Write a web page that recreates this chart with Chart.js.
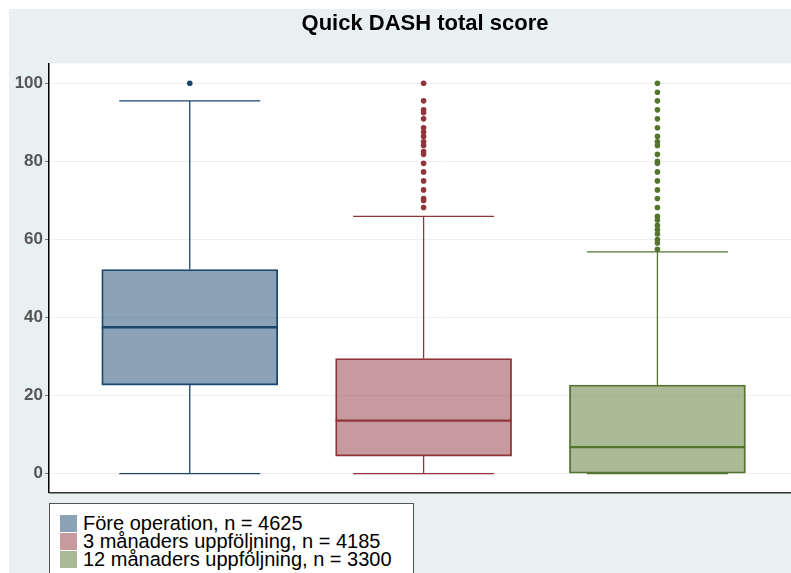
<!DOCTYPE html>
<html>
<head>
<meta charset="utf-8">
<script src="https://cdn.jsdelivr.net/npm/chart.js@4/dist/chart.umd.min.js"></script>
<style>
  html, body { margin: 0; padding: 0; width: 791px; height: 573px; overflow: hidden; background: #fff; }
  #panel { position: absolute; left: 9px; top: 9px; width: 840px; height: 600px; background: #e9f0f2; }
  #chart { position: absolute; left: 9px; top: 9px; }
  #legend {
    position: absolute; left: 49px; top: 503px; width: 365px; height: 90px;
    background: #fff; border: 1.5px solid #555; box-sizing: border-box;
    font-family: "Liberation Sans", Arial, sans-serif; font-size: 20px; color: #000;
    padding: 10px 0 0 10px;
  }
  .item { display: flex; align-items: center; height: 18px; line-height: 18px; white-space: nowrap; }
  .swatch { width: 17px; height: 17px; margin-right: 6px; flex: none; }
</style>
</head>
<body>
<div id="panel"></div>
<canvas id="chart" width="832" height="496"></canvas>
<div id="legend"></div>
<script>
// Quick DASH total score, three follow-up groups
const groups = ['Före operation, n = 4625', '3 månaders uppföljning, n = 4185', '12 månaders uppföljning, n = 3300'];
const positions = [1, 2, 3];
const q1 = [22.7, 4.5, 0];
const medians = [37.5, 13.6, 6.8];
const q3 = [52.3, 29.5, 22.7];
const whiskerLow = [0, 0, 0];
const whiskerHigh = [95.5, 65.9, 56.8];
const outliersFore = [100];
const outliers3m = [100, 95.5, 93.2, 92.5, 90.9, 88.6, 87.5, 86.4, 85.0, 84.1, 82.5, 81.8, 79.5,
                    77.3, 75.0, 72.7, 70.5, 70.0, 68.2];
const outliers12m = [100, 97.7, 95.5, 93.2, 90.9, 88.6, 86.4, 85.0, 84.1, 81.8, 80.0, 79.5, 77.3,
                     75.0, 72.7, 70.5, 68.2, 65.9, 65.0, 63.6, 62.5, 61.4, 60.0, 59.1, 57.5];
const outliers = [outliersFore, outliers3m, outliers12m];
const yTicks = [0, 20, 40, 60, 80, 100];

const lineColors = ['#1a476f', '#90353b', '#55752f'];
const fillColors = ['rgba(26,71,111,0.5)', 'rgba(144,53,59,0.5)', 'rgba(85,117,47,0.5)'];

const BOX_WIDTH = 176;
const CAP_WIDTH = 141;

Chart.defaults.font.family = '"Liberation Sans", Arial, sans-serif';

const datasets = [];
groups.forEach((g, i) => {
    datasets.push({
        type: 'bar',
        label: g,
        data: [{ x: positions[i], y: [q1[i], q3[i]] }],
        backgroundColor: fillColors[i],
        borderColor: lineColors[i],
        borderWidth: 1.2,
        borderSkipped: false,
        barThickness: BOX_WIDTH,
        grouped: false,
        order: 2
    });
});
groups.forEach((g, i) => {
    datasets.push({
        type: 'scatter',
        label: g + ' outliers',
        data: outliers[i].map(v => ({ x: positions[i], y: v })),
        backgroundColor: lineColors[i],
        borderWidth: 0,
        pointRadius: 2.8,
        order: 1
    });
});

// white plot region, whiskers, caps and medians drawn through the scales
const boxParts = {
    id: 'boxParts',
    beforeDraw(chart) {
        const { ctx, chartArea: a } = chart;
        ctx.save();
        ctx.fillStyle = '#fff';
        ctx.fillRect(a.left, a.top, a.right - a.left, a.bottom - a.top);
        ctx.restore();
    },
    beforeDatasetsDraw(chart) {
        const { ctx, scales: { x, y } } = chart;
        ctx.save();
        ctx.lineWidth = 1.3;
        positions.forEach((p, i) => {
            const cx = x.getPixelForValue(p);
            ctx.strokeStyle = lineColors[i];
            ctx.beginPath();
            ctx.moveTo(cx, y.getPixelForValue(q3[i]));
            ctx.lineTo(cx, y.getPixelForValue(whiskerHigh[i]));
            ctx.moveTo(cx, y.getPixelForValue(q1[i]));
            ctx.lineTo(cx, y.getPixelForValue(whiskerLow[i]));
            [whiskerHigh[i], whiskerLow[i]].forEach(v => {
                const py = y.getPixelForValue(v);
                ctx.moveTo(cx - CAP_WIDTH / 2, py);
                ctx.lineTo(cx + CAP_WIDTH / 2, py);
            });
            ctx.stroke();
        });
        ctx.restore();
    },
    afterDatasetsDraw(chart) {
        const { ctx, scales: { x, y } } = chart;
        ctx.save();
        ctx.lineWidth = 2.4;
        positions.forEach((p, i) => {
            const cx = x.getPixelForValue(p);
            const py = y.getPixelForValue(medians[i]);
            ctx.strokeStyle = lineColors[i];
            ctx.beginPath();
            ctx.moveTo(cx - BOX_WIDTH / 2, py);
            ctx.lineTo(cx + BOX_WIDTH / 2, py);
            ctx.stroke();
        });
        ctx.restore();
    },
    afterDraw(chart) {
        const { ctx, chartArea: a } = chart;
        ctx.save();
        ctx.strokeStyle = '#333';
        ctx.lineWidth = 1.5;
        ctx.beginPath();
        ctx.moveTo(a.left, a.bottom);
        ctx.lineTo(a.right, a.bottom);
        ctx.stroke();
        ctx.restore();
    }
};

new Chart(document.getElementById('chart'), {
    data: { datasets },
    options: {
        responsive: false,
        animation: false,
        layout: { padding: { left: 0, right: 0, top: 0, bottom: 3 } },
        plugins: {
            legend: { display: false },
            tooltip: { enabled: false },
            title: {
                display: true,
                text: 'Quick DASH total score',
                color: '#000',
                font: { size: 22, weight: 'bold' },
                padding: { top: 2, bottom: 26 }
            }
        },
        scales: {
            x: {
                type: 'linear',
                display: false,
                offset: false,
                min: 0.398,
                max: 3.768
            },
            y: {
                min: -4.9,
                max: 105.1,
                afterBuildTicks: axis => { axis.ticks = yTicks.map(v => ({ value: v })); },
                afterFit: scale => { scale.width = 40; },
                ticks: { color: '#555', font: { size: 17, weight: 'bold' }, padding: 2 },
                grid: { color: '#edf0f0', tickColor: '#777', tickLength: 4 },
                border: { color: '#000', width: 1.5 }
            }
        }
    },
    plugins: [boxParts]
});

// legend as a boxed list under the plot
const legend = document.getElementById('legend');
groups.forEach((g, i) => {
    const row = document.createElement('div');
    row.className = 'item';
    row.innerHTML = '<span class="swatch" style="background:' + fillColors[i] + '"></span>' + g;
    legend.appendChild(row);
});
</script>
</body>
</html>
